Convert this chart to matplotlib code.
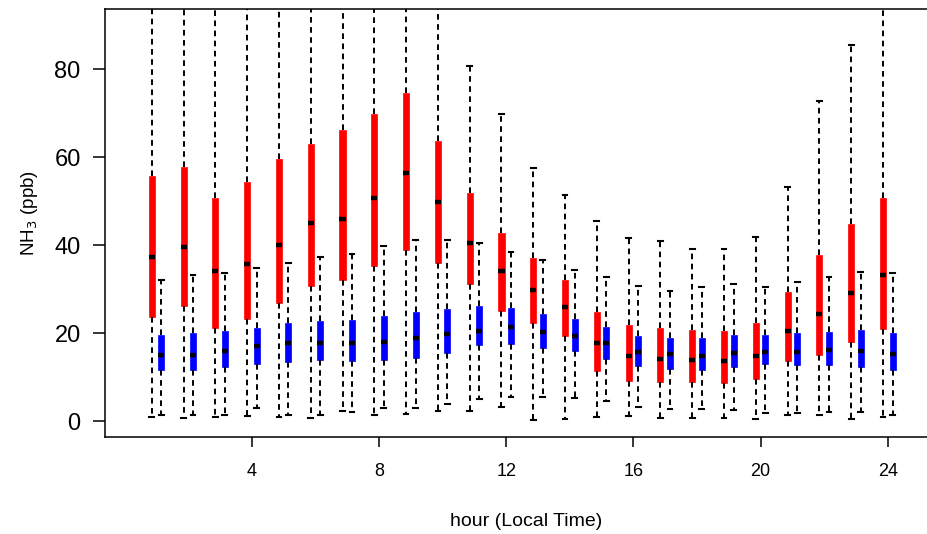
import matplotlib.pyplot as plt
import matplotlib as mpl
import numpy as np

mpl.rcParams['font.family'] = ['Liberation Sans', 'DejaVu Sans']

hours = list(range(1, 25))

# red series (whisker low, Q1, median, Q3, whisker high); high values above 93 run off the top
red_lo  = [1.0, 0.8, 1.0, 1.1, 1.0, 0.8, 2.3, 1.3, 1.7, 2.3, 2.3, 3.2, 0.2, 0.6, 1.0, 1.1, 0.7, 0.7, 0.8, 0.4, 1.3, 1.4, 0.5, 1.0]
red_q1  = [23.7, 26.1, 21.2, 23.2, 26.9, 30.8, 32.1, 35.3, 39.0, 35.9, 31.2, 25.1, 22.2, 19.3, 11.3, 9.2, 8.9, 8.8, 8.7, 9.6, 13.7, 15.0, 18.0, 21.0]
red_med = [37.3, 39.6, 34.1, 35.8, 40.1, 45.1, 45.9, 50.8, 56.3, 49.8, 40.6, 34.2, 29.9, 26.0, 17.7, 14.8, 14.1, 13.8, 13.7, 14.8, 20.5, 24.3, 29.1, 33.3]
red_q3  = [55.8, 57.7, 50.7, 54.4, 59.5, 63.0, 66.1, 69.7, 74.6, 63.7, 51.8, 42.7, 37.0, 32.1, 24.9, 21.9, 21.2, 20.8, 20.5, 22.2, 29.3, 37.7, 44.8, 50.7]
red_hi  = [98, 99, 97, 98, 100, 101, 103, 104, 106, 97, 80.7, 69.8, 57.6, 51.4, 45.5, 41.6, 40.9, 39.2, 39.2, 41.9, 53.2, 72.7, 85.6, 99]

# blue series
blue_lo  = [1.5, 1.5, 1.4, 2.9, 1.4, 1.5, 2.1, 3.0, 2.9, 3.9, 5.1, 5.4, 5.4, 5.3, 4.5, 3.3, 2.8, 2.7, 2.5, 1.8, 1.9, 2.0, 2.0, 1.4]
blue_q1  = [11.7, 11.7, 12.2, 12.9, 13.5, 13.8, 13.6, 13.8, 14.4, 15.5, 17.2, 17.5, 16.7, 15.9, 14.2, 12.5, 11.9, 11.7, 12.4, 12.9, 12.8, 12.7, 12.4, 11.6]
blue_med = [15.1, 15.1, 15.9, 17.0, 17.7, 17.8, 17.8, 18.1, 19.0, 19.8, 20.6, 21.3, 20.3, 19.4, 17.8, 15.8, 15.3, 14.9, 15.4, 15.7, 15.7, 16.1, 16.0, 15.3]
blue_q3  = [19.6, 20.0, 20.4, 21.2, 22.3, 22.8, 23.0, 23.9, 24.7, 25.5, 26.1, 25.7, 24.4, 23.2, 21.4, 19.4, 18.8, 18.8, 19.6, 19.6, 20.0, 20.3, 20.7, 20.0]
blue_hi  = [32.1, 33.2, 33.7, 34.7, 35.9, 37.2, 38.0, 39.9, 41.2, 41.2, 40.5, 38.5, 36.7, 34.4, 32.8, 30.8, 29.6, 30.5, 31.2, 30.6, 31.6, 32.8, 34.0, 33.6]


def make_stats(lo, q1, med, q3, hi):
    return [dict(whislo=a, q1=b, med=c, q3=d, whishi=e, fliers=[])
            for a, b, c, d, e in zip(lo, q1, med, q3, hi)]


fig = plt.figure(figsize=(9.28, 5.34), dpi=100)
ax = fig.add_axes([105 / 928, 1 - 437 / 534, 1.005 - 105 / 928, (437 - 9.3) / 534])

for stats, col, off in [(make_stats(red_lo, red_q1, red_med, red_q3, red_hi), 'red', -0.15),
                        (make_stats(blue_lo, blue_q1, blue_med, blue_q3, blue_hi), 'blue', 0.15)]:
    ax.bxp(stats, positions=np.array(hours) + off, widths=0.19, capwidths=0.15,
           patch_artist=True, showfliers=False, manage_ticks=False,
           boxprops=dict(facecolor=col, edgecolor=col, linewidth=0.5),
           medianprops=dict(color='black', linewidth=3.2, solid_capstyle='butt'),
           whiskerprops=dict(color='black', linewidth=1.4, linestyle=(0, (2.9, 2.3))),
           capprops=dict(color='black', linewidth=1.5))

ax.set_xlim(-0.62, 25.41)
ax.set_ylim(-3.6, 93.6)
ax.set_xticks([4, 8, 12, 16, 20, 24])
ax.set_yticks([0, 20, 40, 60, 80])
ax.tick_params(axis='x', length=7, width=1.1, pad=12, labelsize=13)
ax.tick_params(axis='y', length=8.5, width=1.1, pad=9, labelsize=17)
for s in ['left', 'top', 'bottom']:
    ax.spines[s].set_linewidth(1.1)
ax.spines['right'].set_visible(False)

fig.text(526 / 928, 1 - 522 / 534, 'hour (Local Time)', ha='center', va='center', fontsize=14)
fig.text(30 / 928, 1 - 213 / 534, r'NH$_3$ (ppb)', ha='center', va='center', rotation=90, fontsize=13.5)

fig.savefig('out.png', dpi=100)
